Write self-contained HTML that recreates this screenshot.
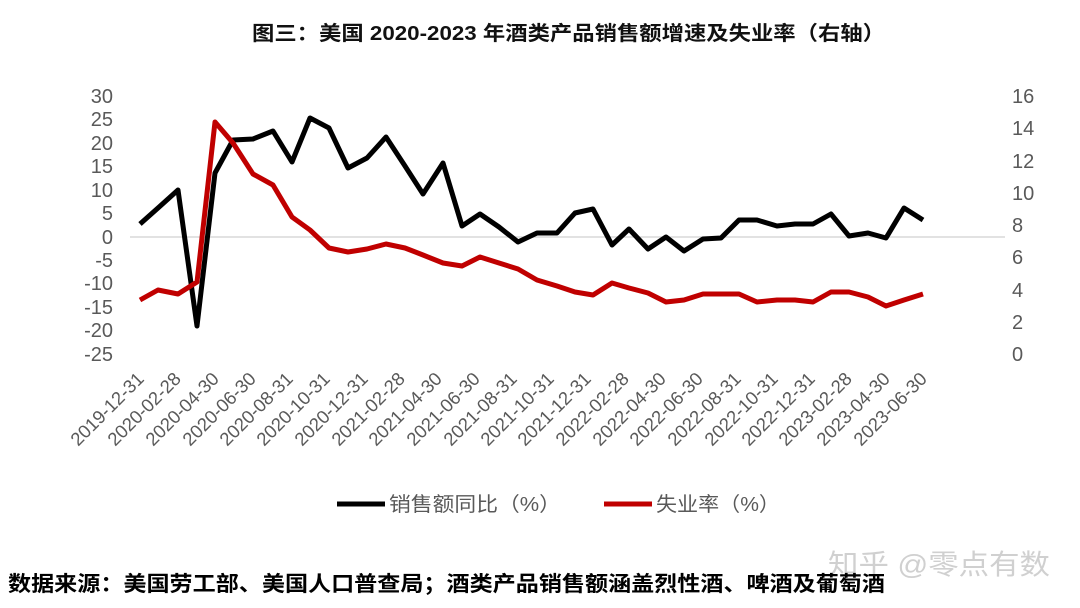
<!DOCTYPE html>
<html><head><meta charset="utf-8"><style>
body{margin:0;background:#fff;}
svg{display:block;}
text{font-family:"Liberation Sans","Noto Sans CJK SC",sans-serif;}
</style></head><body>
<svg width="1080" height="608" viewBox="0 0 1080 608" xmlns="http://www.w3.org/2000/svg">
<text x="252" y="40" font-size="20" font-weight="bold" fill="#111" textLength="633" lengthAdjust="spacingAndGlyphs">图三：美国 2020-2023 年酒类产品销售额增速及失业率（右轴）</text>
<g font-size="20" fill="#595959" text-anchor="end">
<text x="113" y="103">30</text><text x="113" y="126">25</text><text x="113" y="150">20</text><text x="113" y="173">15</text><text x="113" y="197">10</text><text x="113" y="220">5</text><text x="113" y="244">0</text><text x="113" y="267">-5</text><text x="113" y="290">-10</text><text x="113" y="314">-15</text><text x="113" y="337">-20</text><text x="113" y="361">-25</text>
</g>
<g font-size="20" fill="#595959" text-anchor="start">
<text x="1012" y="103">16</text><text x="1012" y="135">14</text><text x="1012" y="168">12</text><text x="1012" y="200">10</text><text x="1012" y="232">8</text><text x="1012" y="264">6</text><text x="1012" y="297">4</text><text x="1012" y="329">2</text><text x="1012" y="361">0</text>
</g>
<line x1="130" y1="237" x2="1005" y2="237" stroke="#d9d9d9" stroke-width="1.5"/>
<polyline fill="none" stroke="#000" stroke-width="5" stroke-linejoin="round" points="140,224 158,208 178,190 197,326 215,173 233,140 253,139 273,131 292,162 310,118 329,128 348,168 367,158 386,137 405,166 423,194 443,163 462,226 480,214 499,227 518,242 537,233 557,233 575,213 593,209 612,245 629,229 648,249 666,237 684,251 703,239 721,238 739,220 757,220 777,226 795,224 813,224 831,214 849,236 868,233 886,238 904,208 923,220"/>
<polyline fill="none" stroke="#c00000" stroke-width="5" stroke-linejoin="round" points="140,300 158,290 178,294 197,282 215,122 233,143 253,174 273,185 292,217 310,230 329,248 348,252 367,249 386,244 405,248 423,255 443,263 462,266 480,257 499,263 518,269 537,280 557,286 575,292 593,295 612,283 629,288 648,293 666,302 684,300 703,294 721,294 739,294 757,302 777,300 795,300 813,302 831,292 849,292 868,297 886,306 904,300 923,294"/>
<g font-size="18.5" fill="#595959" text-anchor="end">
<text transform="translate(145,380) rotate(-45)">2019-12-31</text>
<text transform="translate(182,380) rotate(-45)">2020-02-28</text>
<text transform="translate(220,380) rotate(-45)">2020-04-30</text>
<text transform="translate(257,380) rotate(-45)">2020-06-30</text>
<text transform="translate(294,380) rotate(-45)">2020-08-31</text>
<text transform="translate(331,380) rotate(-45)">2020-10-31</text>
<text transform="translate(369,380) rotate(-45)">2020-12-31</text>
<text transform="translate(406,380) rotate(-45)">2021-02-28</text>
<text transform="translate(443,380) rotate(-45)">2021-04-30</text>
<text transform="translate(481,380) rotate(-45)">2021-06-30</text>
<text transform="translate(518,380) rotate(-45)">2021-08-31</text>
<text transform="translate(555,380) rotate(-45)">2021-10-31</text>
<text transform="translate(592,380) rotate(-45)">2021-12-31</text>
<text transform="translate(630,380) rotate(-45)">2022-02-28</text>
<text transform="translate(667,380) rotate(-45)">2022-04-30</text>
<text transform="translate(704,380) rotate(-45)">2022-06-30</text>
<text transform="translate(742,380) rotate(-45)">2022-08-31</text>
<text transform="translate(779,380) rotate(-45)">2022-10-31</text>
<text transform="translate(816,380) rotate(-45)">2022-12-31</text>
<text transform="translate(853,380) rotate(-45)">2023-02-28</text>
<text transform="translate(891,380) rotate(-45)">2023-04-30</text>
<text transform="translate(928,380) rotate(-45)">2023-06-30</text>
</g>
<line x1="337" y1="504" x2="385" y2="504" stroke="#000" stroke-width="5"/>
<text x="389" y="511" font-size="20" fill="#595959" textLength="172" lengthAdjust="spacingAndGlyphs">销售额同比（%）</text>
<line x1="604" y1="504" x2="652" y2="504" stroke="#c00000" stroke-width="5"/>
<text x="656" y="511" font-size="20" fill="#595959" textLength="124" lengthAdjust="spacingAndGlyphs">失业率（%）</text>
<text x="828" y="574" font-size="28" fill="#d0d0d0" textLength="222" lengthAdjust="spacingAndGlyphs">知乎 @零点有数</text>
<text x="8" y="591" font-size="21" font-weight="bold" fill="#000" textLength="877" lengthAdjust="spacingAndGlyphs">数据来源：美国劳工部、美国人口普查局；酒类产品销售额涵盖烈性酒、啤酒及葡萄酒</text>
</svg>
</body></html>
